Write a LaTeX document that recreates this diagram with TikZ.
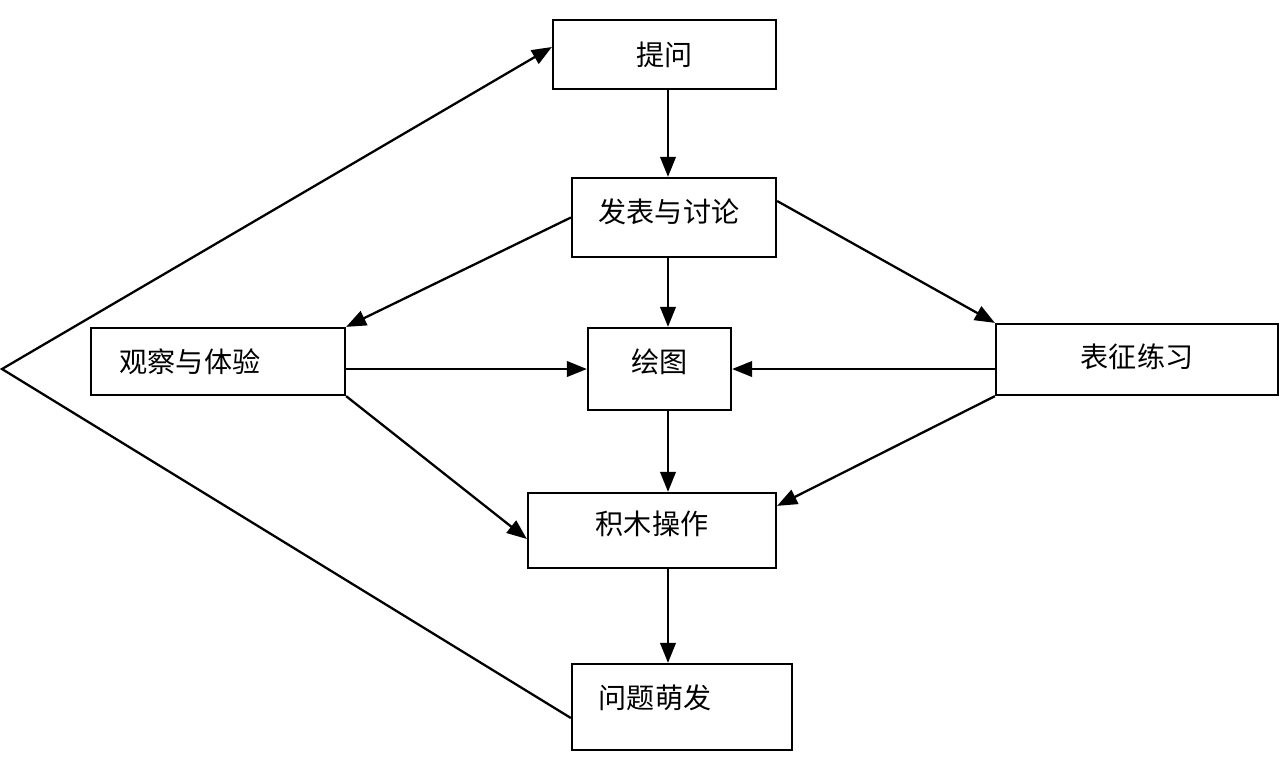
\documentclass[tikz,border=0pt]{standalone}
\usepackage{fontspec}
\newfontfamily\cjk{Noto Sans CJK SC}
\usetikzlibrary{arrows.meta}

\tikzset{
  box/.style={draw, line width=1.3pt, inner sep=0pt},
  lbl/.style={font=\cjk\fontsize{16pt}{19pt}\selectfont, inner sep=0pt},
  link/.style={line width=1.3pt, -{Triangle[length=4mm,width=3.1mm]}},
}

\begin{document}
\begin{tikzpicture}[x=0.02cm, y=-0.02cm]
        \useasboundingbox (0,0) rectangle (1280,779);
        \coordinate (axis) at (668,0);
        \coordinate (apex) at (2,369);
        % boxes
        \node[box, minimum width=4.46cm, minimum height=1.38cm,
              label={[lbl]center:提问}] (tiwen) at (664.5,54.5) {};
        \node[box, minimum width=4.08cm, minimum height=1.58cm,
              label={[lbl, xshift=-0.1cm, yshift=0.11cm]center:发表与讨论}] (fabiao) at (674,217.5) {};
        \node[box, minimum width=5.08cm, minimum height=1.34cm,
              label={[lbl, xshift=-0.56cm]center:观察与体验}] (guancha) at (218,361.5) {};
        \node[box, minimum width=2.86cm, minimum height=1.64cm,
              label={[lbl, yshift=0.14cm]center:绘图}] (huitu) at (659.5,369) {};
        \node[box, minimum width=5.64cm, minimum height=1.42cm,
              label={[lbl, yshift=0.05cm]center:表征练习}] (biaozheng) at (1137,359.5) {};
        \node[box, minimum width=4.96cm, minimum height=1.5cm,
              label={[lbl, yshift=0.13cm]center:积木操作}] (jimu) at (652,530.5) {};
        \node[box, minimum width=4.4cm, minimum height=1.72cm,
              label={[lbl, xshift=-0.54cm, yshift=0.18cm]center:问题萌发}] (wenti) at (682,707) {};
        % vertical chain
        \draw[link] (tiwen.south -| axis) -- (fabiao.north -| axis);
        \draw[link] (fabiao.south -| axis) -- (huitu.north -| axis);
        \draw[link] (huitu.south -| axis) -- (jimu.north -| axis);
        \draw[link] (jimu.south -| axis) -- (wenti.north -| axis);
        % sides
        \draw[link] (fabiao.west) -- (guancha.north east);
        \draw[link] ([yshift=0.33cm]fabiao.east) -- (biaozheng.north west);
        \draw[link] (guancha.east |- huitu.west) -- (huitu.west);
        \draw[link] (biaozheng.west |- huitu.east) -- (huitu.east);
        \draw[link] (guancha.south east) -- ([yshift=-0.17cm]jimu.west);
        \draw[link] (biaozheng.south west) -- ([yshift=-0.28cm]jimu.north east);
        % feedback
        \draw[link] ([yshift=-0.22cm]wenti.west) -- (apex) -- ([yshift=0.15cm]tiwen.west);
    \end{tikzpicture}
\end{document}
